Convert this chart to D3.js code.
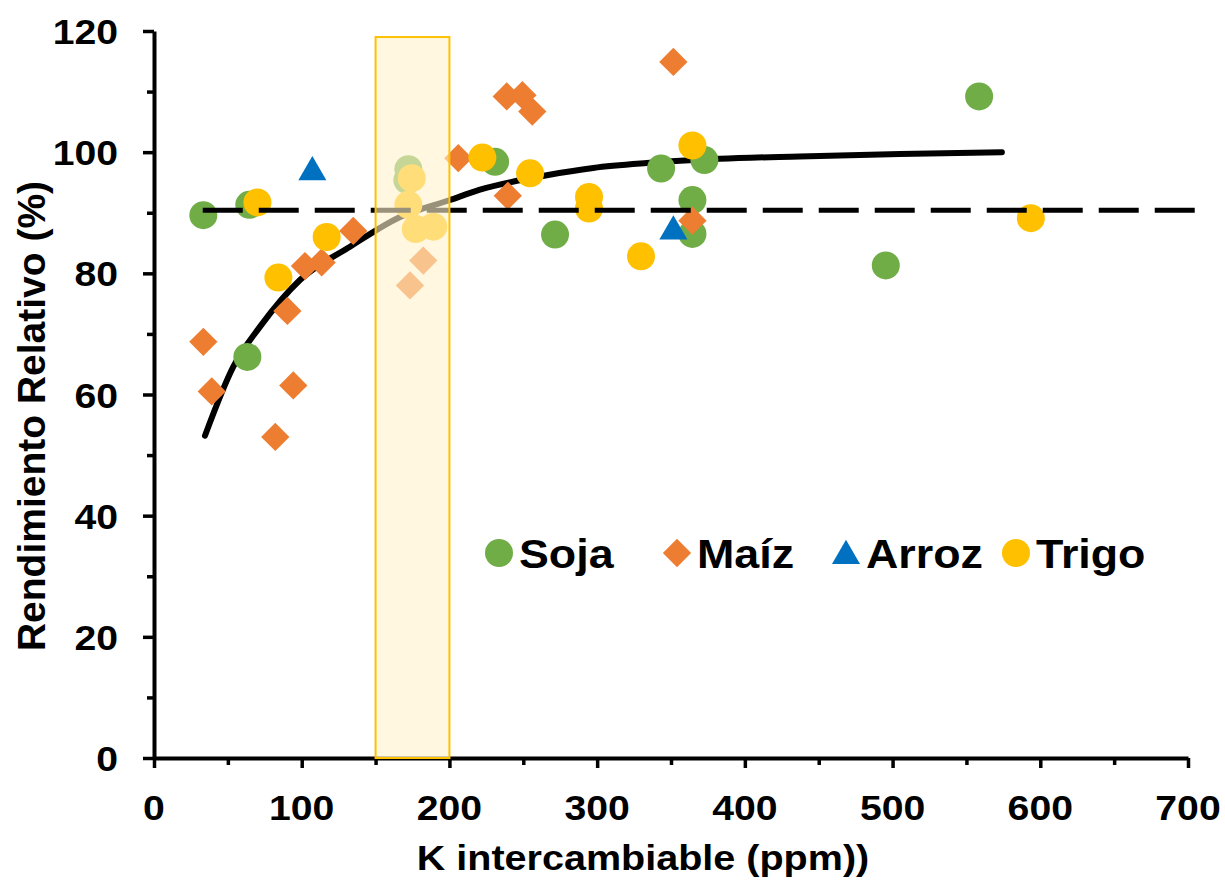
<html>
<head>
<meta charset="utf-8">
<script src="https://d3js.org/d3.v7.min.js"></script>
<style>
  body { margin: 0; background: #fff; }
  text { font-family: "Liberation Sans", Arial, sans-serif; font-weight: bold; fill: #000; }
</style>
</head>
<body>
<div id="chart"></div>
<script>

// --- data ---
var sojaK  = [33.4, 64.5, 63.2, 172.2, 171.5, 230.9, 271.5, 343.3, 372.6, 364.5, 364.5, 495.4, 558.6];
var sojaRR = [89.6, 91.3, 66.2, 97.2, 95.4, 98.4, 86.4, 97.3, 98.7, 92.1, 86.5, 81.3, 109.2];

var maizK  = [33.4, 39.1, 82.1, 94.3, 90.3, 102.2, 113.5, 134.9, 182.3, 173.3, 206.0, 239.5, 238.8, 249.4, 256.1, 351.6, 364.5];
var maizRR = [68.7, 60.5, 53.0, 61.5, 73.8, 81.2, 81.8, 87.0, 82.1, 78.0, 99.0, 92.8, 109.2, 109.4, 106.7, 114.9, 88.7];

var arrozK  = [107.2, 351.6];
var arrozRR = [97.2, 87.4];

var trigoK  = [70.0, 84.2, 116.9, 174.5, 172.2, 177.2, 189.1, 222.3, 254.6, 294.5, 294.5, 329.7, 364.5, 593.6];
var trigoRR = [91.7, 79.3, 86.0, 95.7, 91.3, 87.3, 87.7, 99.1, 96.5, 92.6, 90.7, 82.8, 101.1, 89.1];

// fitted response curve
var curveK  = [34.5, 53.7, 71.8, 98.8, 132.7, 166.6, 200.4, 220.7, 265.9, 297.4, 333.6, 383, 437, 505, 574];
var curveRR = [53.2, 64.6, 71.2, 78.9, 84.4, 89.3, 92.1, 93.8, 96.2, 97.4, 98.2, 98.9, 99.3, 99.7, 100.0];

// 90% relative yield reference line
var refK  = [33, 705];
var refRR = [90.4, 90.4];

// critical range band
var bandK  = [150, 200];
var bandRR = [0, 119];

var xTicks = [0, 100, 200, 300, 400, 500, 600, 700];
var xMinor = [50, 150, 250, 350, 450, 550, 650];
var yTicks = [0, 20, 40, 60, 80, 100, 120];
var yMinor = [10, 30, 50, 70, 90, 110];

var series = ["Soja", "Maíz", "Arroz", "Trigo"];
var colors = ["#70AD47", "#ED7D31", "#0070C0", "#FFC000"];
var shapes = ["circle", "diamond", "triangle", "circle"];

// --- layout ---
var width = 1225, height = 880;
var x = d3.scaleLinear().domain([0, 700]).range([154, 1188]);
var y = d3.scaleLinear().domain([0, 120]).range([758, 31]);
var stretch = 1.12;

var svg = d3.select("#chart").append("svg")
  .attr("width", width)
  .attr("height", height);

function zip(a, b) { return a.map(function(v, i) { return [v, b[i]]; }); }

// axes
var gy = svg.append("g").attr("transform", "translate(" + x(0) + ",0)");
gy.call(d3.axisLeft(y).tickValues(yTicks).tickSize(11).tickSizeOuter(0).tickFormat(""));
gy.append("g").call(d3.axisLeft(y).tickValues(yMinor).tickSize(7).tickSizeOuter(0).tickFormat(""))
  .select(".domain").remove();

var gx = svg.append("g").attr("transform", "translate(0," + y(0) + ")");
gx.call(d3.axisBottom(x).tickValues(xTicks).tickSize(10).tickSizeOuter(0).tickFormat(""));
gx.append("g").call(d3.axisBottom(x).tickValues(xMinor).tickSize(7).tickSizeOuter(0).tickFormat(""))
  .select(".domain").remove();

svg.selectAll(".domain").attr("stroke", "#000").attr("stroke-width", 4);
svg.selectAll(".tick line").attr("stroke", "#000").attr("stroke-width", 3.5);

// tick labels
svg.append("g").selectAll("text")
  .data(yTicks)
  .enter()
  .append("text")
  .attr("transform", function(d) { return "translate(118," + (y(d) + 13) + ") scale(" + stretch + ",1)"; })
  .attr("text-anchor", "end")
  .style("font-size", "35px")
  .text(function(d) { return d; });

svg.append("g").selectAll("text")
  .data(xTicks)
  .enter()
  .append("text")
  .attr("transform", function(d) { return "translate(" + x(d) + ",820) scale(" + stretch + ",1)"; })
  .attr("text-anchor", "middle")
  .style("font-size", "35px")
  .text(function(d) { return d; });

// axis titles
svg.append("text")
  .attr("transform", "translate(643,870) scale(" + 1.13 + ",1)")
  .attr("text-anchor", "middle")
  .style("font-size", "35px")
  .text("K intercambiable (ppm))");

svg.append("text")
  .attr("transform", "translate(45,416) rotate(-90)")
  .attr("text-anchor", "middle")
  .style("font-size", "39px")
  .text("Rendimiento Relativo (%)");

// response curve (under the points)
svg.append("path")
  .datum(zip(curveK, curveRR))
  .attr("fill", "none")
  .attr("stroke", "#000")
  .attr("stroke-width", 6)
  .attr("stroke-linecap", "round")
  .attr("d", d3.line()
    .x(function(d) { return x(d[0]); })
    .y(function(d) { return y(d[1]); })
    .curve(d3.curveMonotoneX));

// markers
var sym = {
  circle: d3.symbol().type(d3.symbolCircle).size(Math.PI * 14 * 14),
  diamond: d3.symbol().type(d3.symbolSquare).size(20 * 20),
  triangle: d3.symbol().type(d3.symbolTriangle).size(340)
};

function marker(sel, shape) {
  sel.attr("d", sym[shape]());
  if (shape == "diamond") sel.attr("transform", function(d) { return "translate(" + d[0] + "," + d[1] + ") rotate(45)"; });
  else if (shape == "triangle") sel.attr("transform", function(d) { return "translate(" + d[0] + "," + (d[1] + 3) + ")"; });
  else sel.attr("transform", function(d) { return "translate(" + d[0] + "," + d[1] + ")"; });
}

var allK = [sojaK, maizK, arrozK, trigoK];
var allRR = [sojaRR, maizRR, arrozRR, trigoRR];

series.forEach(function(s, i) {
  var pts = zip(allK[i], allRR[i]).map(function(p) { return [x(p[0]), y(p[1])]; });
  svg.append("g").selectAll("path")
    .data(pts)
    .enter()
    .append("path")
    .attr("fill", colors[i])
    .call(marker, shapes[i]);
});

// dashed 90% line (over the points)
svg.append("path")
  .datum(zip(refK, refRR))
  .attr("fill", "none")
  .attr("stroke", "#000")
  .attr("stroke-width", 5)
  .attr("stroke-dasharray", "40,16")
  .attr("d", d3.line()
    .x(function(d) { return x(d[0]); })
    .y(function(d) { return y(d[1]); }));

// legend
var legX = [499, 677, 846, 1016];
series.forEach(function(s, i) {
  svg.append("path")
    .datum([legX[i], 553])
    .attr("fill", colors[i])
    .call(marker, shapes[i]);
  svg.append("text")
    .attr("transform", "translate(" + (legX[i] + 20) + ",568) scale(" + stretch + ",1)")
    .style("font-size", "40px")
    .text(s);
});

// critical range band, drawn over everything
svg.append("rect")
  .attr("x", x(bandK[0]))
  .attr("y", y(bandRR[1]))
  .attr("width", x(bandK[1]) - x(bandK[0]))
  .attr("height", y(bandRR[0]) - y(bandRR[1]))
  .attr("fill", "#FFF2CC")
  .attr("fill-opacity", 0.6)
  .attr("stroke", "#FFC000")
  .attr("stroke-width", 2);

</script>
</body>
</html>
